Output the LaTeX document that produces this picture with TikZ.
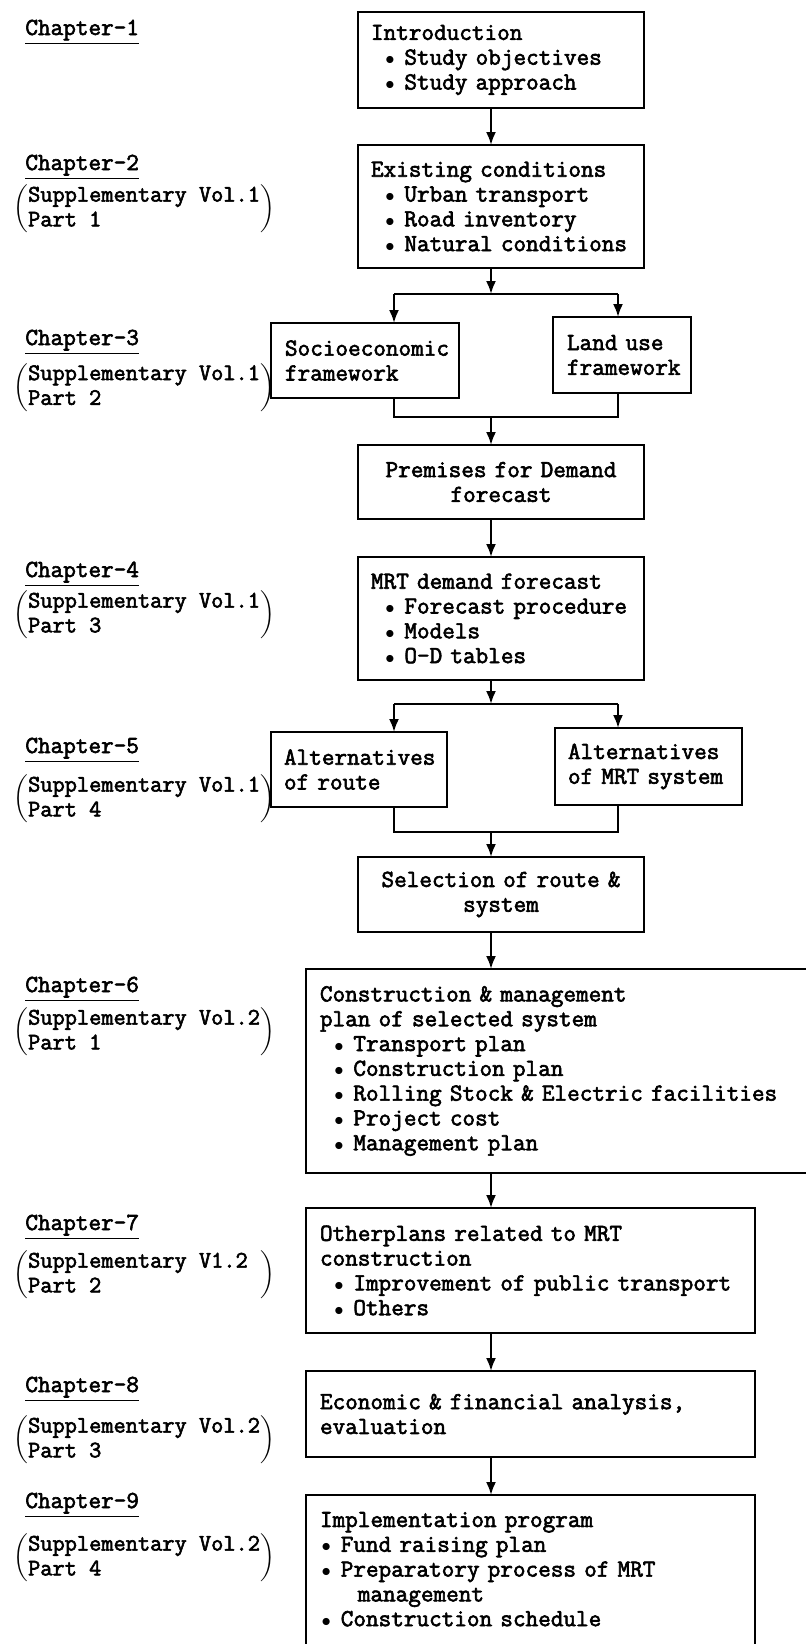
\documentclass[tikz,border=0pt]{standalone}
\usepackage{fontspec}
\setmonofont{Latin Modern Mono}[FakeBold=2.5]
\usetikzlibrary{arrows.meta,positioning,calc}

\newcommand{\dotmark}{\leavevmode\hbox to \fontcharwd\font`x{\hss$\scriptstyle\bullet$\hss}}
\newcommand{\itm}{\hphantom{x}\dotmark\ }
\newcommand{\supvol}[2]{$\left(\begin{tabular}{@{}l@{}}#1\\#2\end{tabular}\right)$}

\tikzset{
  stage/.style={draw, line width=1.1pt, outer sep=0pt, inner xsep=6.5pt, inner ysep=0pt, align=left},
  chap/.style={anchor=base west, inner sep=0pt},
  vol/.style={anchor=west, inner sep=0pt, font=\fontsize{11.85}{12.4}\selectfont\ttfamily},
  link/.style={line width=1.1pt},
  flow/.style={line width=1.1pt, -{Latex[length=6.5pt,width=5pt]}},
}

\begin{document}
\begin{tikzpicture}[x=1pt, y=1pt, font=\fontsize{12.25}{12.4}\selectfont\ttfamily]
\useasboundingbox (0,0) rectangle (402.5,-822);

% main column
\node[stage, text width=130pt, minimum height=48pt, anchor=north west] (intro) at (179,-6)
  {Introduction\\\itm Study objectives\\\itm Study approach};
\node[stage, text width=130pt, minimum height=61.5pt, below=18.5pt of intro] (exist)
  {Existing conditions\\\itm Urban transport\\\itm Road inventory\\\itm Natural~conditions};
\node[stage, text width=80pt, minimum height=37.5pt, inner xsep=7pt, below=27.5pt of exist.south west, anchor=north west, xshift=-43.5pt] (socio)
  {Socioeconomic\\framework};
\node[stage, text width=55pt, minimum height=38pt, inner xsep=7pt, below=24.5pt of exist.south east, anchor=north east, xshift=23.5pt] (landuse)
  {Land use\\framework};
\node[stage, text width=130pt, minimum height=37pt, align=center, below=88.5pt of exist] (premises)
  {Premises for Demand\\forecast};
\node[stage, text width=130pt, minimum height=61.5pt, below=19pt of premises] (mrt)
  {MRT demand forecast\\\itm Forecast~procedure\\\itm Models\\\itm O-D tables};
\node[stage, text width=75pt, minimum height=37.5pt, below=26pt of mrt.south west, anchor=north west, xshift=-43.5pt] (altroute)
  {Alternatives\\of route};
\node[stage, text width=80.5pt, minimum height=38.5pt, below=24pt of mrt.south east, anchor=north east, xshift=49pt] (altsys)
  {Alternatives\\of~MRT~system};
\node[stage, text width=130pt, minimum height=37.5pt, align=center, below=88.5pt of mrt] (select)
  {Selection of route \&\\system};

% wide boxes
\node[stage, text width=242pt, minimum height=102pt, inner xsep=7pt, below=18.5pt of select.south west, anchor=north west, xshift=-26pt] (constr)
  {Construction \& management\\plan of selected system\\\itm Transport plan\\\itm Construction plan\\\itm Rolling~Stock~\&~Electric~facilities\\\itm Project cost\\\itm Management plan};
\node[stage, text width=210.5pt, minimum height=62.5pt, inner xsep=7pt, below=17.5pt of constr.south west, anchor=north west] (other)
  {Otherplans related to MRT\\construction\\\itm Improvement~of~public~transport\\\itm Others};
\node[stage, text width=210.5pt, minimum height=43pt, inner xsep=7pt, below=19pt of other.south west, anchor=north west] (econ)
  {Economic \& financial analysis,\\evaluation};
\node[stage, text width=210.5pt, inner xsep=7pt, inner ysep=8.5pt, text depth=64pt, below=19pt of econ.south west, anchor=north west] (impl)
  {Implementation program\\\dotmark\ Fund raising plan\\\dotmark\ Preparatory process of MRT\\\hphantom{xxx}management\\\dotmark\ Construction schedule};

% chapter labels
\node[chap] (ch1) at (12.5,-17.5) {\underline{Chapter-1}};
\node[chap] (ch2) at (12.5,-85) {\underline{Chapter-2}};
\node[vol] (vol2) at (6.5,-104.5) {\supvol{Supplementary Vol.1}{Part 1}};
\node[chap] (ch3) at (12.5,-172.5) {\underline{Chapter-3}};
\node[vol] (vol3) at (6.5,-193.75) {\supvol{Supplementary Vol.1}{Part 2}};
\node[chap] (ch4) at (12.5,-288.5) {\underline{Chapter-4}};
\node[vol] (vol4) at (6.5,-307.5) {\supvol{Supplementary Vol.1}{Part 3}};
\node[chap] (ch5) at (12.5,-376.5) {\underline{Chapter-5}};
\node[vol] (vol5) at (6.5,-399.5) {\supvol{Supplementary Vol.1}{Part 4}};
\node[chap] (ch6) at (12.5,-496) {\underline{Chapter-6}};
\node[vol] (vol6) at (6.5,-516) {\supvol{Supplementary Vol.2}{Part 1}};
\node[chap] (ch7) at (12.5,-615) {\underline{Chapter-7}};
\node[vol] (vol7) at (6.5,-637.5) {\supvol{Supplementary V1.2\hphantom{x}}{Part 2}};
\node[chap] (ch8) at (12.5,-696) {\underline{Chapter-8}};
\node[vol] (vol8) at (6.5,-720) {\supvol{Supplementary Vol.2}{Part 3}};
\node[chap] (ch9) at (12.5,-754) {\underline{Chapter-9}};
\node[vol] (vol9) at (6.5,-779) {\supvol{Supplementary Vol.2}{Part 4}};

% connector points
\coordinate (spine) at (245.5,0);
\coordinate (lbr) at (197,0);
\coordinate (rbr) at (309,0);
\coordinate[below=13pt of exist.south] (fork1);
\coordinate[below=9.5pt of socio.south] (join1);
\coordinate[below=12pt of mrt.south] (fork2);
\coordinate[below=12.5pt of altroute.south] (join2);

\draw[flow] (intro.south -| spine) -- (exist.north -| spine);
\draw[flow] (exist.south -| spine) -- (fork1 -| spine);
\draw[link] (fork1 -| lbr) -- (fork1 -| rbr);
\draw[flow] (fork1 -| lbr) -- (socio.north -| lbr);
\draw[flow] (fork1 -| rbr) -- (landuse.north -| rbr);
\draw[link] (socio.south -| lbr) -- (join1 -| lbr) -- (join1 -| rbr) -- (landuse.south -| rbr);
\draw[flow] (join1 -| spine) -- (premises.north -| spine);
\draw[flow] (premises.south -| spine) -- (mrt.north -| spine);
\draw[flow] (mrt.south -| spine) -- (fork2 -| spine);
\draw[link] (fork2 -| lbr) -- (fork2 -| rbr);
\draw[flow] (fork2 -| lbr) -- (altroute.north -| lbr);
\draw[flow] (fork2 -| rbr) -- (altsys.north -| rbr);
\draw[link] (altroute.south -| lbr) -- (join2 -| lbr) -- (join2 -| rbr) -- (altsys.south -| rbr);
\draw[flow] (join2 -| spine) -- (select.north -| spine);
\draw[flow] (select.south -| spine) -- (constr.north -| spine);
\draw[flow] (constr.south -| spine) -- (other.north -| spine);
\draw[flow] (other.south -| spine) -- (econ.north -| spine);
\draw[flow] (econ.south -| spine) -- (impl.north -| spine);
\end{tikzpicture}
\end{document}
